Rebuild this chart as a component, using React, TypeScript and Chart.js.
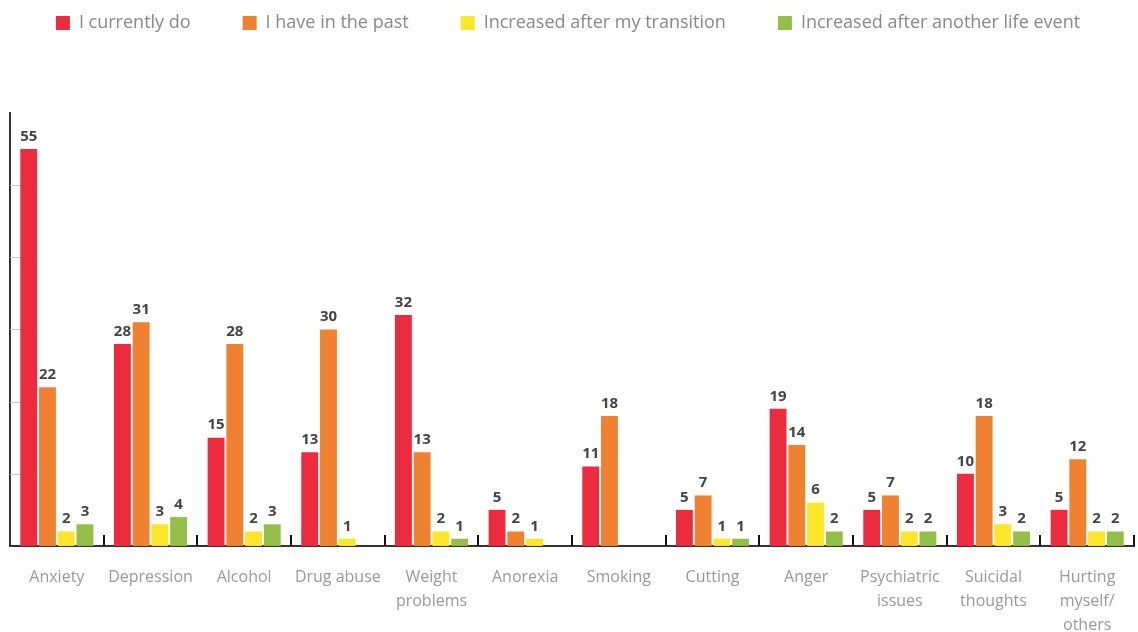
import React, { useEffect, useRef } from "react";
import { Chart, registerables } from "chart.js";

Chart.register(...registerables);

const categories: (string | string[])[] = [
  "Anxiety",
  "Depression",
  "Alcohol",
  "Drug abuse",
  ["Weight", "problems"],
  "Anorexia",
  "Smoking",
  "Cutting",
  "Anger",
  ["Psychiatric", "issues"],
  ["Suicidal", "thoughts"],
  ["Hurting", "myself/", "others"],
];

const currentlyDo = [55, 28, 15, 13, 32, 5, 11, 5, 19, 5, 10, 5];
const haveInPast = [22, 31, 28, 30, 13, 2, 18, 7, 14, 7, 18, 12];
const afterTransition = [2, 3, 2, 1, 2, 1, 0, 1, 6, 2, 3, 2];
const afterLifeEvent = [3, 4, 3, 0, 1, 0, 0, 1, 2, 2, 2, 2];

const seriesNames = [
  "I currently do",
  "I have in the past",
  "Increased after my transition",
  "Increased after another life event",
];
const seriesColors = ["#ED2B3E", "#EF8131", "#FBE627", "#93BF48"];
const yTicks = [10, 20, 30, 40, 50];

const FONT = "'Open Sans', 'Noto Sans', sans-serif";

const overlayPlugin = {
  id: "overlay",
  beforeInit(chart: any) {
    const origFit = chart.legend.fit;
    chart.legend.fit = function () {
      const mw = this.maxWidth;
      this.maxWidth = mw + 80;
      origFit.bind(chart.legend)();
      this.maxWidth = mw;
      this.width = mw;
      this.height = 151;
    };
  },
  beforeDatasetsDraw(chart: any) {
    const { ctx, chartArea, scales } = chart;
    ctx.save();
    ctx.strokeStyle = "#cccccc";
    ctx.lineWidth = 1;
    yTicks.forEach((v) => {
      const y = Math.round(scales.y.getPixelForValue(v)) + 0.5;
      ctx.beginPath();
      ctx.moveTo(chartArea.left, y);
      ctx.lineTo(chartArea.left + 28, y);
      ctx.stroke();
    });
    ctx.restore();
  },
  afterDatasetsDraw(chart: any) {
    const { ctx, chartArea } = chart;
    ctx.save();
    const n = categories.length;
    const w = (chartArea.right - chartArea.left) / n;
    ctx.strokeStyle = "#111";
    ctx.lineWidth = 2;
    for (let i = 1; i <= n; i++) {
      const x = Math.round(chartArea.left + i * w);
      ctx.beginPath();
      ctx.moveTo(x, chartArea.bottom - 11);
      ctx.lineTo(x, chartArea.bottom);
      ctx.stroke();
    }
    ctx.font = `bold 15px ${FONT}`;
    ctx.fillStyle = "#444444";
    ctx.textAlign = "center";
    ctx.textBaseline = "bottom";
    chart.data.datasets.forEach((ds: any, di: number) => {
      const meta = chart.getDatasetMeta(di);
      meta.data.forEach((el: any, i: number) => {
        const v = ds.data[i];
        if (!v) return;
        ctx.fillText(String(v), el.x, el.y - 5);
      });
    });
    ctx.restore();
  },
};

export default function App() {
  const ref = useRef<HTMLCanvasElement>(null);
  useEffect(() => {
    if (!ref.current) return;
    const data = [currentlyDo, haveInPast, afterTransition, afterLifeEvent];
    const chart = new Chart(ref.current, {
      type: "bar",
      data: {
        labels: categories as any,
        datasets: data.map((d, i) => ({
          label: seriesNames[i],
          data: d,
          backgroundColor: seriesColors[i],
          borderWidth: 0,
          categoryPercentage: 0.8,
          barPercentage: 0.9,
        })),
      },
      options: {
        responsive: true,
        maintainAspectRatio: false,
        animation: false,
        layout: { padding: { left: 2, right: 4, top: -38, bottom: -17 } },
        plugins: {
          tooltip: { enabled: false },
          legend: {
            position: "top",
            labels: {
              boxWidth: 14,
              boxHeight: 14,
              padding: 52,
              color: "#888888",
              font: { family: FONT, size: 18 },
            },
          },
        },
        scales: {
          x: {
            grid: { display: false },
            border: { display: true, color: "#333", width: 2 },
            ticks: {
              color: "#999999",
              font: { family: FONT, size: 16, lineHeight: 1.48 },
              padding: 12,
              maxRotation: 0,
              autoSkip: false,
            },
          },
          y: {
            min: 0,
            max: 60,
            grid: { display: false },
            border: { display: true, color: "#333", width: 2 },
            ticks: { display: false, stepSize: 10 },
          },
        },
      },
      plugins: [overlayPlugin],
    });
    return () => chart.destroy();
  }, []);
  return (
    <div style={{ position: "fixed", left: 0, top: 0, width: 1138, height: 632, background: "#fff" }}>
      <canvas ref={ref} />
    </div>
  );
}
